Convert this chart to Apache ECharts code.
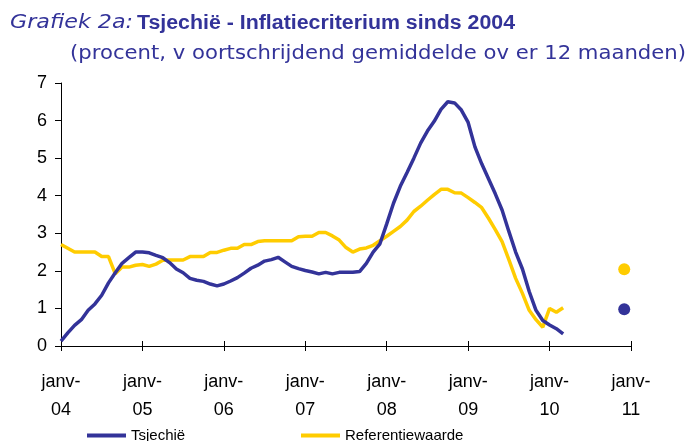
<!DOCTYPE html>
<html>
<head>
<meta charset="utf-8">
<script src="https://cdn.jsdelivr.net/npm/echarts@6/dist/echarts.min.js"></script>
<style>
  html, body { margin: 0; padding: 0; background: #fff; }
  #chart { width: 690px; height: 441px; }
</style>
</head>
<body>
<div id="chart"></div>
<script>
// maanden jan-2004 t/m jan-2011
var months = [];
for (var y = 2004; y <= 2011; y++) {
    for (var m = 1; m <= 12; m++) {
        if (y === 2011 && m > 1) break;
        months.push(y + '-' + (m < 10 ? '0' + m : m));
    }
}

// Tsjechië, jan-04 .. mrt-10
var tsjechie = [
    0.13, 0.35, 0.55, 0.70, 0.95, 1.12, 1.35, 1.68, 1.95, 2.20, 2.35, 2.50,
    2.50, 2.48, 2.41, 2.35, 2.22, 2.05, 1.95, 1.80, 1.75, 1.72, 1.65, 1.60,
    1.65, 1.73, 1.82, 1.94, 2.07, 2.15, 2.26, 2.30, 2.36, 2.24, 2.12, 2.06,
    2.01, 1.97, 1.92, 1.96, 1.92, 1.96, 1.96, 1.96, 1.98, 2.20, 2.50, 2.72,
    3.25, 3.80, 4.25, 4.62, 5.00, 5.40, 5.72, 5.98, 6.30, 6.50, 6.47, 6.28,
    5.95, 5.30, 4.85, 4.45, 4.05, 3.62, 3.05, 2.50, 2.05, 1.45, 0.95, 0.68,
    0.56, 0.46, 0.32
];

// Referentiewaarde, jan-04 .. mrt-10
var referentie = [
    2.70, 2.60, 2.50, 2.50, 2.50, 2.50, 2.38, 2.38, 1.92, 2.10, 2.10, 2.15,
    2.17, 2.12, 2.18, 2.28, 2.29, 2.29, 2.29, 2.38, 2.38, 2.38, 2.49, 2.49,
    2.55, 2.60, 2.60, 2.70, 2.70, 2.78, 2.80, 2.80, 2.80, 2.80, 2.80, 2.91,
    2.92, 2.92, 3.02, 3.02, 2.93, 2.82, 2.62, 2.50, 2.58, 2.61, 2.68, 2.80,
    2.92, 3.05, 3.18, 3.35, 3.58, 3.72, 3.88, 4.03, 4.17, 4.17, 4.08, 4.07,
    3.95, 3.82, 3.68, 3.40, 3.10, 2.78, 2.30, 1.80, 1.40, 0.95, 0.70, 0.50,
    1.00, 0.90, 1.02
];

// losse punten dec-10
var puntMaand = '2010-12';
var puntTsjechie = 0.98;
var puntReferentie = 2.04;

var titelA = 'Grafiek 2a:';
var titelB = 'Tsjechië - Inflatiecriterium sinds 2004';
var ondertitel = '(procent, v oortschrijdend gemiddelde ov er 12 maanden)';

var blauw = '#333399';
var geel = '#FFCC00';
var gridTop = 83, gridBottom = 95;
var gridHeight = 441 - gridTop - gridBottom;

function maandLabel(v) {
    return 'janv-\n' + v.substring(2, 4);
}

// tekst horizontaal schalen tot een gewenste breedte
var ctx = document.createElement('canvas').getContext('2d');
function schaal(tekst, font, breedte) {
    ctx.font = font;
    return breedte / ctx.measureText(tekst).width;
}
function titelTekst(tekst, font, x, y, breedte) {
    return {
        type: 'text', x: x, y: y,
        scaleX: schaal(tekst, font, breedte),
        style: { text: tekst, font: font, fill: blauw, verticalAlign: 'middle' }
    };
}

var fontA = 'italic 19px "DejaVu Sans"';
var fontB = 'bold 20px "Liberation Sans"';
var fontC = '20px "DejaVu Sans"';

var chart = echarts.init(document.getElementById('chart'));
chart.setOption({
    animation: false,
    graphic: [
        titelTekst(titelA, fontA, 10, 23, 123),
        titelTekst(titelB, fontB, 137, 23, 378),
        titelTekst(ondertitel, fontC, 70, 54, 616)
    ],
    legend: [{
        left: 82, top: 423,
        data: ['Tsjechië'],
        icon: 'rect', itemWidth: 39, itemHeight: 4,
        textStyle: { fontFamily: 'Liberation Sans', fontSize: 15, color: '#000' }
    }, {
        left: 296, top: 423,
        data: ['Referentiewaarde'],
        icon: 'rect', itemWidth: 39, itemHeight: 4,
        textStyle: { fontFamily: 'Liberation Sans', fontSize: 15, color: '#000' }
    }],
    grid: { left: 61, right: 59, top: gridTop, bottom: gridBottom },
    xAxis: [{
        type: 'category',
        data: months,
        boundaryGap: false,
        axisLine: { lineStyle: { color: '#000', width: 1 } },
        axisTick: { interval: 11, length: 5, lineStyle: { color: '#000' } },
        axisLabel: {
            interval: 11, formatter: maandLabel, margin: 22,
            fontFamily: 'Liberation Sans', fontSize: 18, lineHeight: 28, color: '#000'
        },
        splitLine: { show: false }
    }, {
        // tweede as alleen voor de ticks boven de lijn
        type: 'category',
        data: months,
        boundaryGap: false,
        position: 'top',
        offset: -gridHeight,
        axisLine: { show: false },
        axisTick: { interval: 11, length: 5, lineStyle: { color: '#000' } },
        axisLabel: { show: false },
        splitLine: { show: false }
    }],
    yAxis: {
        type: 'value',
        min: 0, max: 7, interval: 1,
        axisLine: { show: true, lineStyle: { color: '#000', width: 1 } },
        axisTick: { show: true, length: 6, lineStyle: { color: '#000' } },
        axisLabel: { margin: 14, fontFamily: 'Liberation Sans', fontSize: 18, color: '#000' },
        splitLine: { show: false }
    },
    series: [{
        name: 'Tsjechië',
        type: 'line',
        data: tsjechie,
        showSymbol: false,
        lineStyle: { color: blauw, width: 3.5 },
        itemStyle: { color: blauw },
        z: 3
    }, {
        name: 'Referentiewaarde',
        type: 'line',
        data: referentie,
        showSymbol: false,
        lineStyle: { color: geel, width: 3.5 },
        itemStyle: { color: geel },
        z: 2
    }, {
        name: 'punt-tsjechie',
        type: 'scatter',
        data: [[puntMaand, puntTsjechie]],
        symbolSize: 12,
        itemStyle: { color: blauw, opacity: 1 }
    }, {
        name: 'punt-referentie',
        type: 'scatter',
        data: [[puntMaand, puntReferentie]],
        symbolSize: 12,
        itemStyle: { color: geel, opacity: 1 }
    }]
});
</script>
</body>
</html>
